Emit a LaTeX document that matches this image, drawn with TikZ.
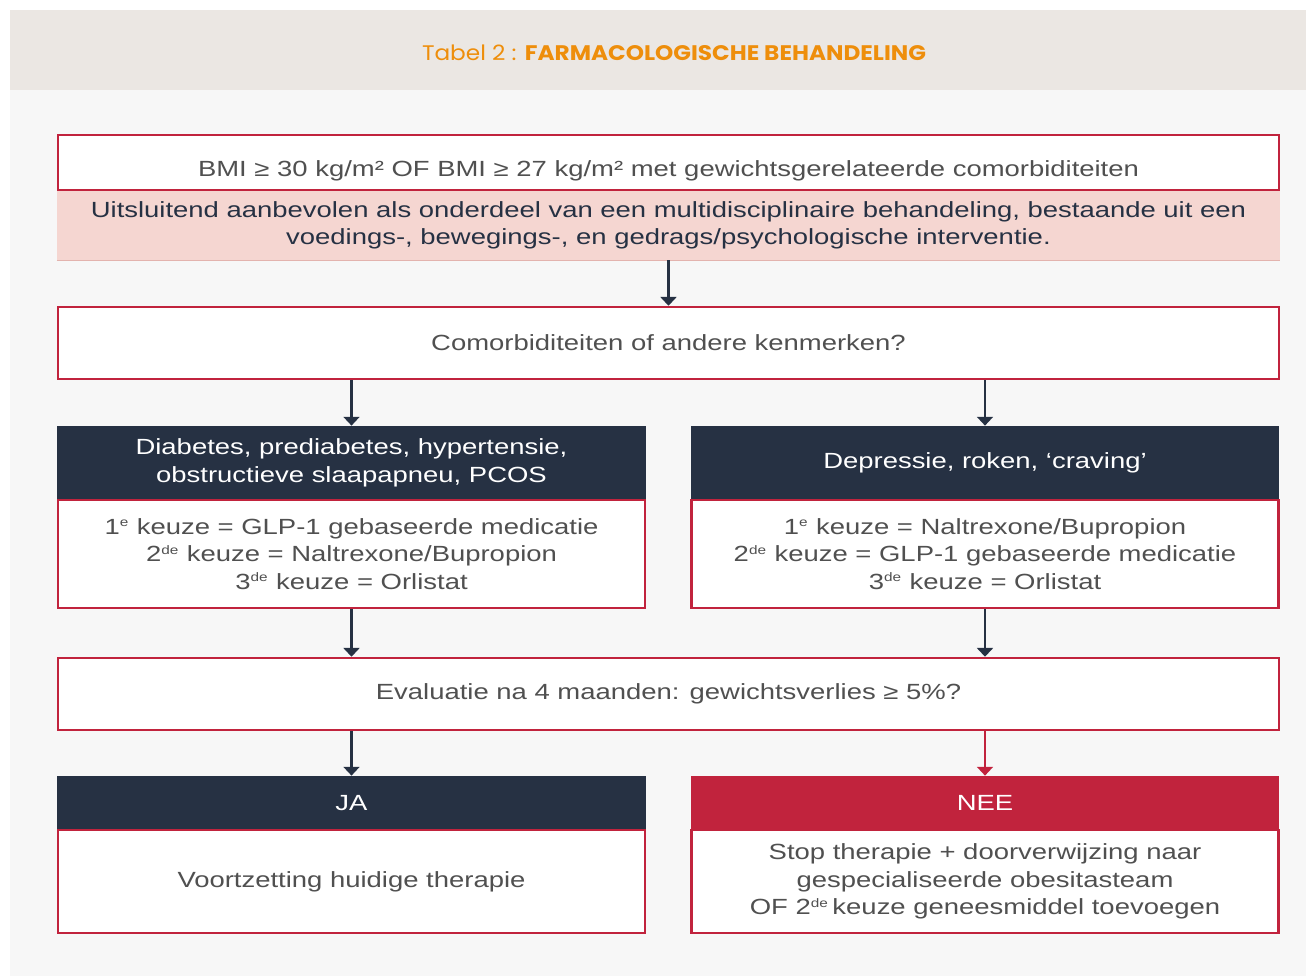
\documentclass[tikz,border=0pt]{standalone}
\usepackage{fontspec}
\setmainfont[FakeStretch=1.25]{Liberation Sans}
\newfontfamily\titlefont[FakeStretch=1.1]{Poppins}
\usetikzlibrary{arrows.meta}
\definecolor{rimred}{HTML}{C1233D}
\definecolor{navy}{HTML}{263143}
\definecolor{bandpink}{HTML}{F5D6D1}
\definecolor{bandline}{HTML}{E3B3AE}
\definecolor{txtgrey}{HTML}{505050}
\definecolor{titleorange}{HTML}{EE8E0B}
\definecolor{hdrgrey}{HTML}{EBE7E3}
\definecolor{bggrey}{HTML}{F7F7F7}
\newcommand{\sups}[1]{\textsuperscript{\scriptsize #1}}
\tikzset{
  box/.style={draw=rimred, line width=1.4pt, fill=white, text=txtgrey,
    align=center, inner sep=0pt, font=\fontsize{12.5}{15.7}\selectfont},
  wide/.style={box, minimum width=24.42cm, minimum height=1.44cm},
  half/.style={box, minimum width=11.74cm, minimum height=2.16cm},
  head/.style={fill=navy, text=white, align=center, inner sep=0pt,
    minimum width=11.78cm, minimum height=1.48cm,
    font=\fontsize{12.5}{15.7}\selectfont},
  arr/.style={navy, line width=1.3pt, -{Triangle[width=9pt, length=5pt]}}
}
\begin{document}
\begin{tikzpicture}[x=0.02cm, y=-0.02cm]
\useasboundingbox (0,0) rectangle (1306,976);
\fill[white] (0,0) rectangle (1306,976);
\fill[hdrgrey] (10,10) rectangle (1306,90);
\fill[bggrey] (10,90) rectangle (1306,976);
\node[text=titleorange, font=\titlefont\fontsize{12}{14}\selectfont] (title) at (674,53)
  {Tabel 2 : \textbf{FARMACOLOGISCHE BEHANDELING}};
% top block
\node[wide, minimum height=1.1cm] (bmi) at (668.5,162.5)
  {\raisebox{-4.5pt}[\height][\depth]{BMI ≥ 30 kg/m² OF BMI ≥ 27 kg/m² met gewichtsgerelateerde comorbiditeiten}};
\node[fill=bandpink, text=navy, align=center, inner sep=0pt,
  minimum width=24.46cm, minimum height=1.38cm,
  font=\fontsize{12.5}{15.7}\selectfont] (band) at (668.5,225.5)
  {Uitsluitend aanbevolen als onderdeel van een multidisciplinaire behandeling, bestaande uit een\\
   voedings-, bewegings-, en gedrags/psychologische interventie.};
\draw[bandline, line width=0.8pt] (band.south west) -- (band.south east);
% question
\node[wide] (vraag) at (668.5,343) {Comorbiditeiten of andere kenmerken?};
\draw[arr] (band.south) -- (vraag.north);
% two groups
\node[head] (lhead) at (351.5,463) {Diabetes, prediabetes, hypertensie,\\obstructieve slaapapneu, PCOS};
\node[half] (lbody) at (351.5,554)
  {1\sups{e} keuze = GLP-1 gebaseerde medicatie\\
   2\sups{de} keuze = Naltrexone/Bupropion\\
   3\sups{de} keuze = Orlistat};
\node[head] (rhead) at (985,463) {Depressie, roken, ‘craving’};
\node[half] (rbody) at (985,554)
  {1\sups{e} keuze = Naltrexone/Bupropion\\
   2\sups{de} keuze = GLP-1 gebaseerde medicatie\\
   3\sups{de} keuze = Orlistat};
\draw[arr] (vraag.south -| lhead.north) -- (lhead.north);
\draw[arr] (vraag.south -| rhead.north) -- (rhead.north);
% evaluation
\node[wide] (eval) at (668.5,694) {Evaluatie na 4 maanden: gewichtsverlies ≥ 5\%?};
\draw[arr] (lbody.south) -- (eval.north -| lbody.south);
\draw[arr] (rbody.south) -- (eval.north -| rbody.south);
% outcomes
\node[head, minimum height=1.08cm] (ja) at (351.5,803) {JA};
\node[half, minimum height=2.06cm] (jabody) at (351.5,881.5) {Voortzetting huidige therapie};
\node[head, fill=rimred, minimum height=1.08cm] (nee) at (985,803) {NEE};
\node[half, minimum height=2.06cm] (neebody) at (985,881.5)
  {Stop therapie + doorverwijzing naar\\
   gespecialiseerde obesitasteam\\
   OF 2\sups{de}\,keuze geneesmiddel toevoegen};
\draw[arr] (eval.south -| ja.north) -- (ja.north);
\draw[arr, rimred] (eval.south -| nee.north) -- (nee.north);
\end{tikzpicture}
\end{document}
